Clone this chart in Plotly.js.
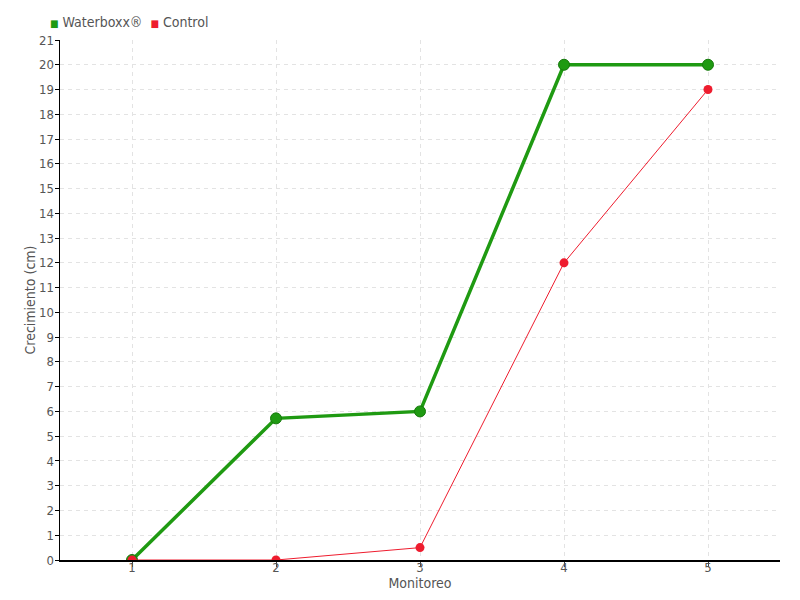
<!DOCTYPE html>
<html>
<head>
<meta charset="utf-8">
<script src="https://cdn.plot.ly/plotly-3.0.1.min.js"></script>
<style>body{margin:0;}#chart{width:800px;height:600px;}</style>
</head>
<body>
<div id="chart"></div>
<script>
const monitoreo = [1, 2, 3, 4, 5];
const waterboxx = [0, 5.72, 6, 20, 20];
const control = [0, 0, 0.5, 12, 19];
const seriesNames = ["Waterboxx®", "Control"];
const yTicks = [0,1,2,3,4,5,6,7,8,9,10,11,12,13,14,15,16,17,18,19,20,21];

const fontFam = "'Liberation Sans Narrow', 'DejaVu Sans Condensed', 'Roboto', sans-serif";
const green = "#1f9a12";
const red = "#ee1c2e";

const traces = [
  {x: monitoreo, y: waterboxx, mode: "lines+markers", name: seriesNames[0],
   line: {color: green, width: 3.5}, marker: {color: green, size: 11, line: {color: "#177a0d", width: 1}}},
  {x: monitoreo, y: control, mode: "lines+markers", name: seriesNames[1],
   line: {color: red, width: 1}, marker: {color: red, size: 9}}
];

const legendText = `<span style="color:${green};font-size:10px">■</span> ${seriesNames[0]}  <span style="color:${red};font-size:10px">■</span> ${seriesNames[1]}`;

const layout = {
  width: 800, height: 600,
  margin: {l: 60, r: 20, t: 40, b: 40},
  paper_bgcolor: "#fff", plot_bgcolor: "#fff",
  font: {family: fontFam, color: "#555", size: 13},
  showlegend: false,
  annotations: [{text: legendText, xref: "paper", yref: "paper", x: -0.017, y: 1.035, xanchor: "left", yanchor: "middle",
                 showarrow: false, font: {size: 14, color: "#555", family: fontFam}}],
  xaxis: {range: [0.5, 5.5], tickvals: monitoreo, ticktext: monitoreo.map(String),
          tickfont: {color: "#555", size: 13},
          showgrid: true, gridcolor: "#e3e3e3", griddash: "4px,4px", zeroline: false,
          showline: true, linecolor: "#000", linewidth: 1.5, ticks: "outside", ticklen: 5, tickcolor: "#444",
          ticklabelstandoff: -10,
          title: {text: "Monitoreo", standoff: 0, font: {size: 14, color: "#555"}}},
  yaxis: {range: [0, 21], tickvals: yTicks, tickfont: {color: "#555", size: 13},
          showgrid: true, gridcolor: "#e3e3e3", griddash: "4px,4px", zeroline: false,
          showline: true, linecolor: "#000", linewidth: 1.5, ticks: "outside", ticklen: 4, tickcolor: "#000",
          ticklabelstandoff: -2,
          title: {text: "Crecimiento (cm)", standoff: 0, font: {size: 14, color: "#555"}}}
};

Plotly.newPlot("chart", traces, layout, {displayModeBar: false, staticPlot: true});
</script>
</body>
</html>
